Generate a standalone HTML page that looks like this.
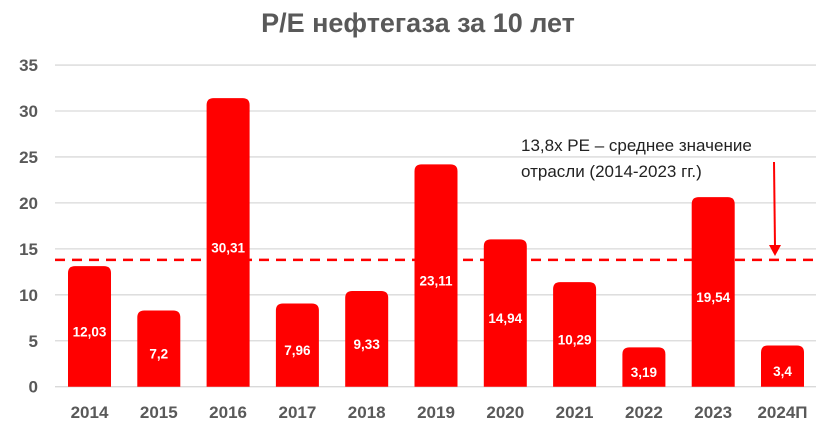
<!DOCTYPE html>
<html><head><meta charset="utf-8"><style>
body{margin:0;background:#fff;}
svg{display:block;font-family:"Liberation Sans",sans-serif;}
</style></head><body>
<svg id="chart" width="837" height="439">
<text x="418" y="32" text-anchor="middle" font-size="27" font-weight="bold" fill="#595959">P/E нефтегаза за 10 лет</text>
<g id="grid"></g><g id="bars"></g>
<text x="521" y="151" font-size="17" fill="#222">13,8x PE – среднее значение</text>
<text x="521" y="177" font-size="17" fill="#222">отрасли (2014-2023 гг.)</text>
<line x1="774" y1="162" x2="775" y2="247" stroke="#f00" stroke-width="2"/>
<polygon points="769,245 781,245 775,256" fill="#f00"/>
</svg>
<script>
const categories=["2014","2015","2016","2017","2018","2019","2020","2021","2022","2023","2024П"];
const values=[12.03,7.2,30.31,7.96,9.33,23.11,14.94,10.29,3.19,19.54,3.4];
const labels=["12,03","7,2","30,31","7,96","9,33","23,11","14,94","10,29","3,19","19,54","3,4"];
const yTicks=[0,5,10,15,20,25,30,35];
const average=13.8;
const NS="http://www.w3.org/2000/svg";
const y=v=>386.7-v*9.19;
const x=i=>89.5+i*69.3;
function mk(t,a,p){const e=document.createElementNS(NS,t);for(const k in a)e.setAttribute(k,a[k]);p.appendChild(e);return e;}
const g=document.getElementById('grid'),b=document.getElementById('bars');
yTicks.forEach(t=>{
 const l=mk('line',{x1:55,x2:816,y1:y(t),y2:y(t),stroke:'#d9d9d9','stroke-width':1.3},g);
 
 
 const tx=mk('text',{x:38,y:y(t)+6,'text-anchor':'end','font-size':17,'font-weight':'bold',fill:'#595959'},g);
 tx.textContent=t;
 
 
});
values.forEach((v,i)=>{
 const top=y(v)-10,h=y(0)-top,w=43,r=7;
 const p=mk('path',{d:`M${x(i)-w/2},${y(0)}V${top+r}Q${x(i)-w/2},${top} ${x(i)-w/2+r},${top}H${x(i)+w/2-r}Q${x(i)+w/2},${top} ${x(i)+w/2},${top+r}V${y(0)}Z`,fill:'#ff0000'},b);
 
 
 const t=mk('text',{x:x(i),y:(top+y(0))/2+10,'text-anchor':'middle','font-size':13.5,'font-weight':'bold',fill:'#fff'},b);
 t.textContent=labels[i];
 
 
 const c=mk('text',{x:x(i),y:418,'text-anchor':'middle','font-size':17,'font-weight':'bold',fill:'#595959'},b);
 c.textContent=categories[i];
 
 
});
const al=mk('line',{x1:55,x2:816,y1:y(average),y2:y(average),stroke:'#ff0000','stroke-width':2.5,'stroke-dasharray':'10,7'},b);


</script>
</body></html>
